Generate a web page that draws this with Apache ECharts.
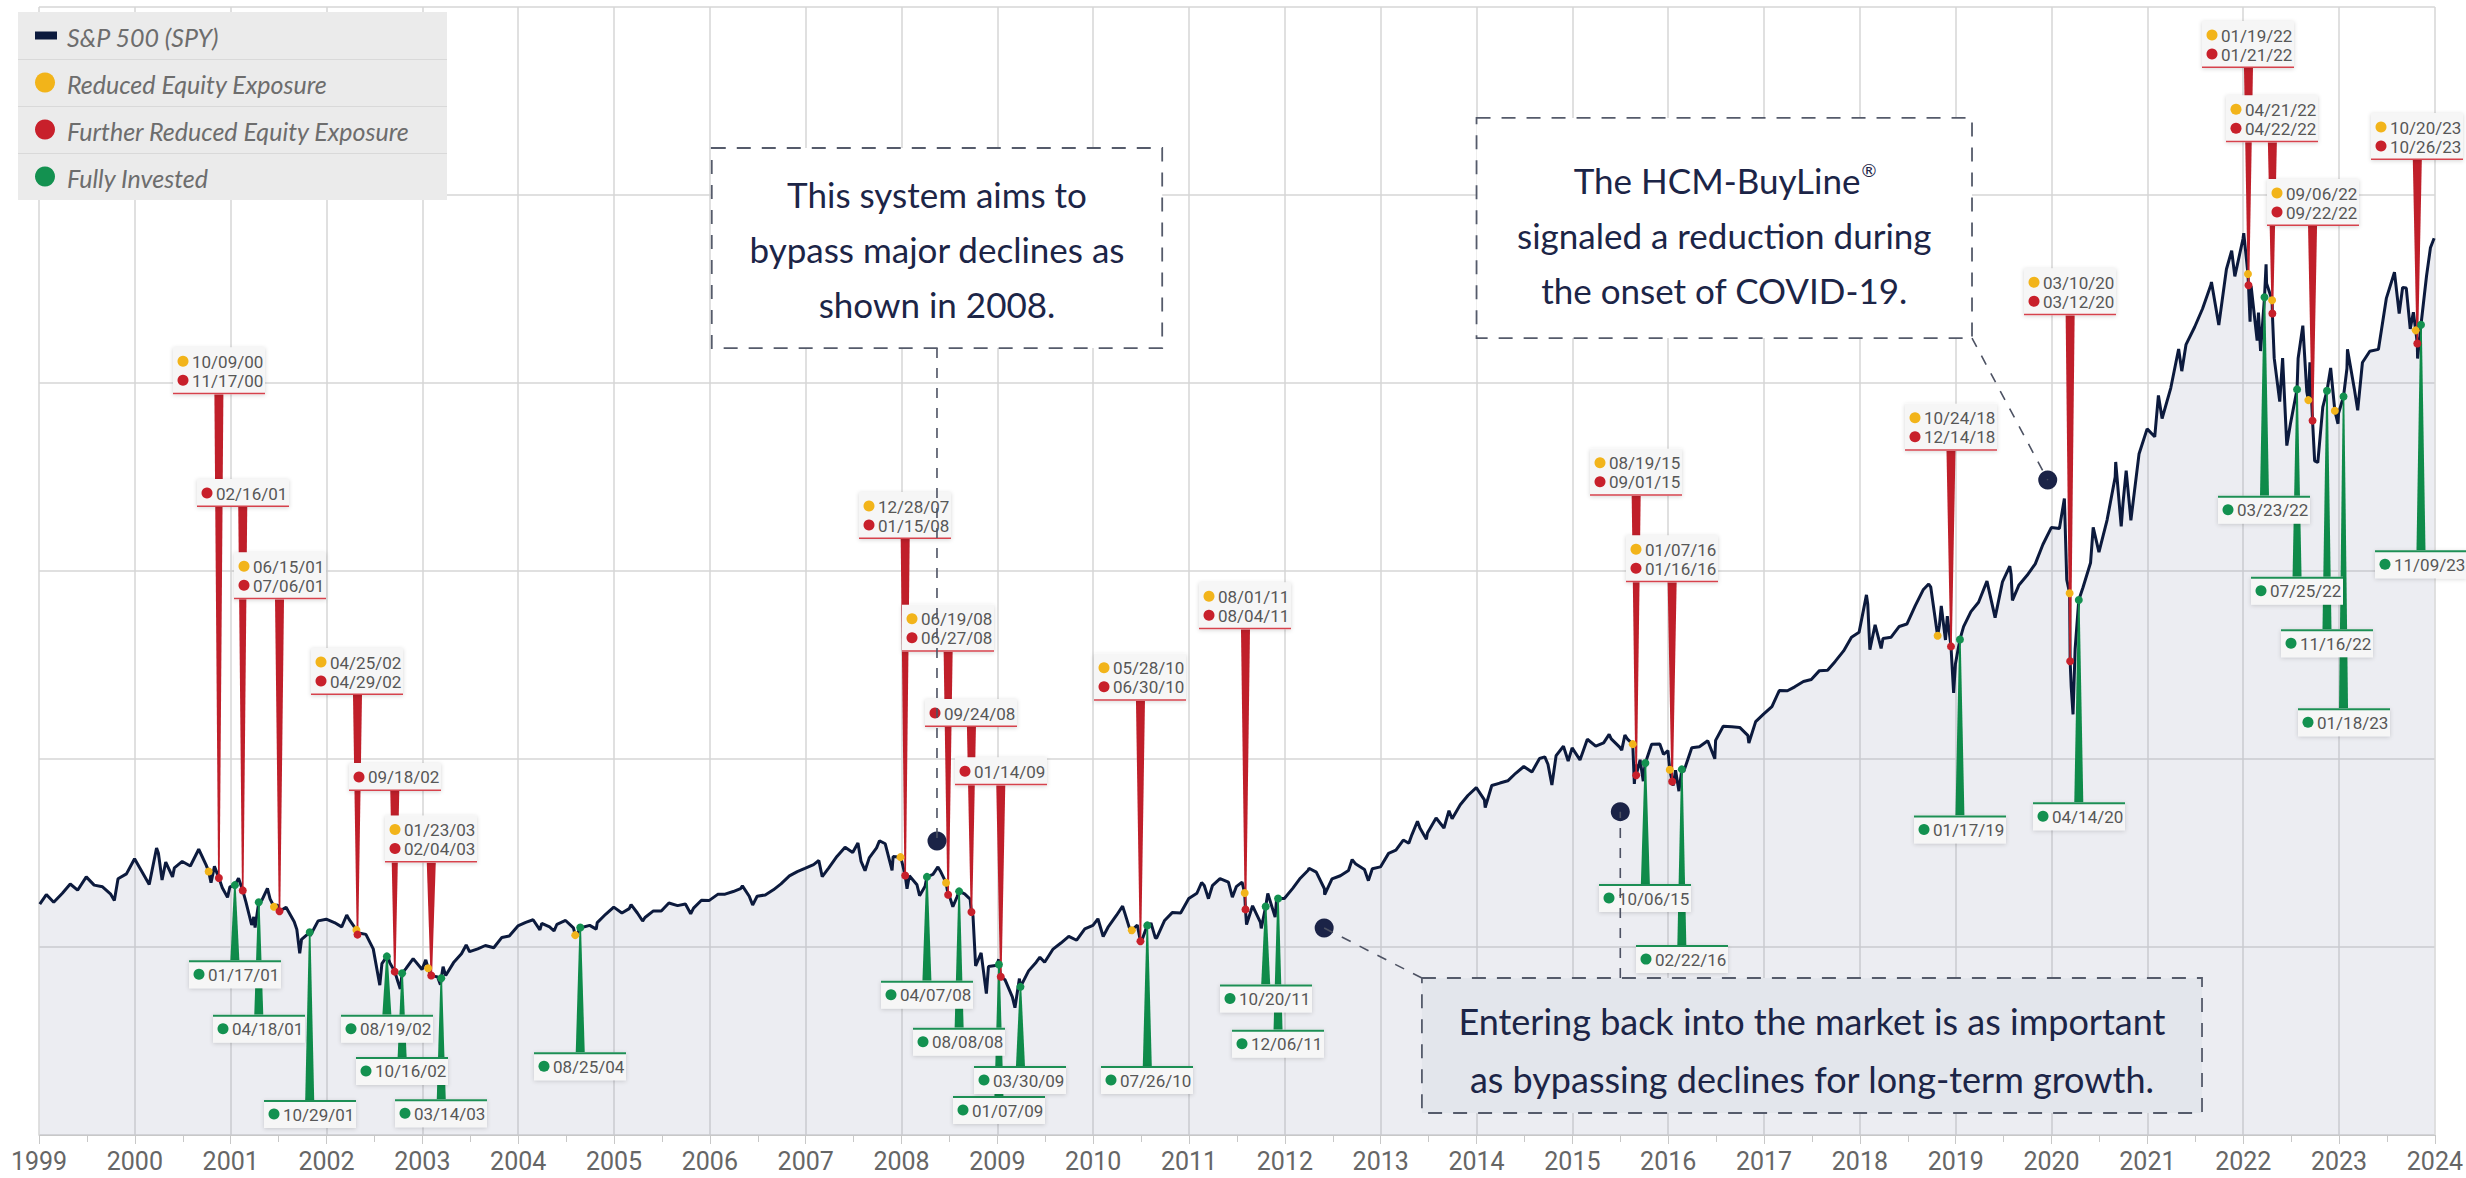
<!DOCTYPE html>
<html><head><meta charset="utf-8">
<script src="https://cdn.jsdelivr.net/npm/echarts/dist/echarts.min.js"></script>
<style>html,body{margin:0;padding:0;background:#fff;overflow:hidden}#chart{width:2466px;height:1178px}</style>
</head><body><div id="chart"></div>
<script>
// ---------------- DATA ----------------
const yearTicks = [1999,2000,2001,2002,2003,2004,2005,2006,2007,2008,2009,2010,2011,2012,2013,2014,2015,2016,2017,2018,2019,2020,2021,2022,2023,2024];

const spy1999_2001 = [
['1999-01-04',122.8],['1999-01-29',127.9],['1999-02-26',123.8],['1999-03-31',128.6],['1999-04-30',133.5],['1999-05-28',130.2],['1999-06-30',137.3],['1999-07-30',132.9],['1999-08-31',132.0],['1999-09-30',128.3],['1999-10-15',124.7],['1999-10-29',136.3],['1999-11-30',138.9],['1999-12-31',146.9],
['2000-01-31',139.4],['2000-02-25',133.3],['2000-03-24',152.7],['2000-03-31',149.9],['2000-04-14',135.6],['2000-04-28',145.2],['2000-05-24',137.3],['2000-05-31',142.1],['2000-06-30',145.5],['2000-07-31',143.1],['2000-09-01',152.0],['2000-09-29',143.7],['2000-10-18',134.2],['2000-10-31',142.9],['2000-11-30',131.5],['2000-12-20',126.4],['2000-12-29',132.0],
['2001-01-31',136.6],['2001-02-28',124.0],['2001-03-22',111.7],['2001-03-30',116.0],['2001-04-04',110.3],['2001-04-30',124.9],['2001-05-21',131.2],['2001-05-31',125.6],['2001-06-29',122.4],['2001-07-31',121.1],['2001-08-31',113.4],['2001-09-10',109.3],['2001-09-21',96.6],['2001-09-28',104.1],['2001-10-31',106.0],['2001-11-30',113.9],['2001-12-31',114.8]
];
const spy2002_2004 = [
['2002-01-31',113.0],['2002-02-28',110.7],['2002-03-19',117.0],['2002-03-28',114.7],['2002-04-30',107.6],['2002-05-31',106.7],['2002-06-28',99.0],['2002-07-23',79.7],['2002-07-31',91.2],['2002-08-22',95.8],['2002-08-30',91.6],['2002-09-30',81.5],['2002-10-09',77.7],['2002-10-31',88.6],['2002-11-27',93.8],['2002-12-31',88.0],
['2003-01-14',93.2],['2003-01-31',85.6],['2003-02-28',84.1],['2003-03-11',80.0],['2003-03-21',89.5],['2003-03-31',84.8],['2003-04-30',91.7],['2003-05-30',96.4],['2003-06-17',101.1],['2003-06-30',97.5],['2003-07-31',99.0],['2003-08-29',100.8],['2003-09-30',99.6],['2003-10-31',105.1],['2003-11-28',105.8],['2003-12-31',111.2],
['2004-01-30',113.1],['2004-02-27',114.5],['2004-03-24',109.1],['2004-03-31',112.6],['2004-04-30',110.7],['2004-05-17',108.5],['2004-05-28',112.1],['2004-06-30',114.1],['2004-07-30',110.2],['2004-08-12',106.4],['2004-08-31',110.4],['2004-09-30',111.5],['2004-10-25',109.5],['2004-10-29',113.0],['2004-11-30',117.4],['2004-12-31',121.2]
];
const spy2005_2007 = [
['2005-01-31',118.1],['2005-02-28',120.4],['2005-03-07',122.5],['2005-03-31',118.1],['2005-04-20',113.8],['2005-04-29',115.7],['2005-05-31',119.2],['2005-06-30',119.1],['2005-07-29',123.4],['2005-08-31',122.0],['2005-09-30',122.9],['2005-10-20',117.7],['2005-10-31',120.7],['2005-11-30',124.9],['2005-12-30',124.8],
['2006-01-31',128.0],['2006-02-28',128.1],['2006-03-31',129.5],['2006-04-28',131.1],['2006-05-05',132.5],['2006-05-31',127.0],['2006-06-13',122.3],['2006-06-30',127.0],['2006-07-31',127.7],['2006-08-31',130.4],['2006-09-29',133.6],['2006-10-31',137.8],['2006-11-30',140.1],['2006-12-29',141.8],
['2007-01-31',143.8],['2007-02-20',146.0],['2007-03-05',137.4],['2007-03-30',142.1],['2007-04-30',148.2],['2007-05-31',153.1],['2007-06-29',150.3],['2007-07-19',155.3],['2007-07-31',145.5],['2007-08-15',140.6],['2007-08-31',147.4],['2007-09-28',152.7],['2007-10-09',156.5],['2007-10-31',154.9],['2007-11-26',140.7],['2007-11-30',148.1],['2007-12-31',146.8]
];
const spy2008_2010 = [
['2008-01-22',131.0],['2008-01-31',137.9],['2008-02-29',133.1],['2008-03-10',127.3],['2008-03-31',132.3],['2008-04-30',138.6],['2008-05-19',142.6],['2008-05-30',140.0],['2008-06-30',128.0],['2008-07-15',121.4],['2008-07-31',126.7],['2008-08-29',128.3],['2008-09-19',125.5],['2008-09-30',116.5],['2008-10-10',89.9],['2008-10-31',96.9],['2008-11-20',75.2],['2008-11-28',89.6],['2008-12-31',90.3],
['2009-01-06',93.5],['2009-01-30',82.6],['2009-02-27',73.5],['2009-03-09',67.7],['2009-03-26',83.2],['2009-04-30',87.3],['2009-05-29',91.9],['2009-06-12',94.6],['2009-06-30',91.9],['2009-07-31',98.7],['2009-08-31',102.1],['2009-09-30',105.7],['2009-10-30',103.6],['2009-11-30',109.6],['2009-12-31',111.5],
['2010-01-19',115.0],['2010-02-08',105.6],['2010-02-26',110.4],['2010-03-31',116.9],['2010-04-23',121.7],['2010-04-30',118.7],['2010-05-25',107.4],['2010-06-18',111.7],['2010-07-02',102.3],['2010-07-30',110.2],['2010-08-09',112.8],['2010-08-26',104.7],['2010-08-31',104.9],['2010-09-30',114.1],['2010-10-29',118.3],['2010-11-30',118.1],['2010-12-31',125.8]
];
const spy2011_2014 = [
['2011-01-31',128.6],['2011-02-18',134.3],['2011-02-28',132.7],['2011-03-16',125.7],['2011-03-31',132.6],['2011-04-29',136.4],['2011-05-31',134.5],['2011-06-15',126.5],['2011-06-30',132.1],['2011-07-22',134.5],['2011-08-08',111.9],['2011-08-31',121.9],['2011-09-30',113.1],['2011-10-03',109.9],['2011-10-28',128.5],['2011-11-25',115.9],['2011-11-30',124.7],['2011-12-30',125.8],
['2012-01-31',131.2],['2012-02-29',136.6],['2012-03-30',140.8],['2012-04-02',141.9],['2012-04-30',139.8],['2012-05-31',131.0],['2012-06-01',127.8],['2012-06-29',136.2],['2012-07-31',137.9],['2012-08-31',140.7],['2012-09-14',146.5],['2012-09-28',144.1],['2012-10-31',141.2],['2012-11-15',135.3],['2012-11-30',141.6],['2012-12-31',142.6],
['2013-01-31',149.8],['2013-02-28',151.5],['2013-03-28',156.9],['2013-04-18',155.2],['2013-04-30',159.8],['2013-05-21',166.9],['2013-05-31',163.1],['2013-06-24',157.3],['2013-06-28',160.6],['2013-07-31',168.6],['2013-08-30',163.3],['2013-09-18',172.5],['2013-09-30',168.2],['2013-10-31',175.7],['2013-11-29',180.6],['2013-12-31',184.8],
['2014-01-31',178.3],['2014-02-03',174.1],['2014-02-28',185.9],['2014-03-31',187.2],['2014-04-30',188.4],['2014-05-30',192.4],['2014-06-30',196.0],['2014-07-31',193.1],['2014-08-29',200.3],['2014-09-18',201.1],['2014-09-30',197.2],['2014-10-15',186.2],['2014-10-31',201.8],['2014-11-28',206.8],['2014-12-16',198.9],['2014-12-31',205.9]
];
const spy2015_2018 = [
['2015-01-30',199.5],['2015-02-27',210.5],['2015-03-31',206.8],['2015-04-30',208.6],['2015-05-21',213.1],['2015-05-29',210.7],['2015-06-30',206.3],['2015-07-08',204.7],['2015-07-20',212.8],['2015-07-31',210.4],['2015-08-25',186.7],['2015-08-31',197.2],['2015-09-16',199.6],['2015-09-28',188.2],['2015-09-30',192.0],['2015-10-30',207.9],['2015-11-30',208.0],['2015-12-14',202.5],['2015-12-31',204.4],
['2016-01-20',185.9],['2016-01-29',194.0],['2016-02-11',182.9],['2016-02-29',193.2],['2016-03-31',206.0],['2016-04-29',206.5],['2016-05-31',209.7],['2016-06-27',200.1],['2016-06-30',209.9],['2016-07-29',217.4],['2016-08-31',217.1],['2016-09-30',216.8],['2016-10-31',212.6],['2016-11-04',208.5],['2016-11-30',219.9],['2016-12-30',223.9],
['2017-01-31',227.9],['2017-02-28',236.4],['2017-03-31',236.3],['2017-04-28',238.4],['2017-05-31',241.2],['2017-06-30',242.3],['2017-07-31',247.0],['2017-08-31',247.2],['2017-09-29',251.9],['2017-10-31',257.5],['2017-11-30',264.8],['2017-12-29',267.4],
['2018-01-26',287.3],['2018-01-31',282.4],['2018-02-08',258.1],['2018-02-28',271.4],['2018-03-23',258.8],['2018-03-30',264.1],['2018-04-30',264.8],['2018-05-31',270.5],['2018-06-29',271.8],['2018-07-31',281.6],['2018-08-31',290.2],['2018-09-20',293.1],['2018-09-28',291.4],['2018-10-31',271.2],['2018-11-07',281.4],['2018-11-23',263.3],['2018-11-30',276.0],['2018-12-24',235.1],['2018-12-31',250.7]
];
const spy2019_2021 = [
['2019-01-31',270.4],['2019-02-28',278.4],['2019-03-29',283.4],['2019-04-30',294.6],['2019-05-31',275.2],['2019-06-28',294.2],['2019-07-26',302.6],['2019-07-31',298.0],['2019-08-05',284.4],['2019-08-30',292.6],['2019-09-30',297.7],['2019-10-31',303.8],['2019-11-29',314.1],['2019-12-31',323.1],
['2020-01-31',322.6],['2020-02-19',338.6],['2020-02-28',295.4],['2020-03-16',238.6],['2020-03-23',223.7],['2020-03-31',258.5],['2020-04-30',291.2],['2020-05-29',304.4],['2020-06-08',323.2],['2020-06-30',310.0],['2020-07-31',327.1],['2020-08-31',350.0],['2020-09-02',358.0],['2020-09-23',323.7],['2020-09-30',336.3],['2020-10-12',353.4],['2020-10-30',327.0],['2020-11-30',362.2],['2020-12-31',375.6],
['2021-01-29',371.4],['2021-02-12',393.4],['2021-02-26',381.1],['2021-03-31',397.3],['2021-04-30',418.1],['2021-05-12',406.3],['2021-05-28',420.4],['2021-06-30',429.8],['2021-07-30',439.5],['2021-08-31',452.3],['2021-09-02',453.7],['2021-09-30',430.8],['2021-10-29',460.5],['2021-11-18',470.4],['2021-11-30',456.7],['2021-12-31',476.6]
];
const spy2022_2023 = [
['2022-01-03',479.7],['2022-01-27',432.6],['2022-01-31',451.6],['2022-02-23',422.5],['2022-02-28',437.4],['2022-03-08',417.0],['2022-03-29',463.1],['2022-03-31',453.0],['2022-04-29',413.2],['2022-05-20',390.1],['2022-05-31',413.2],['2022-06-16',366.7],['2022-06-30',378.5],['2022-07-29',413.0],['2022-08-16',430.5],['2022-08-31',395.5],['2022-09-12',411.0],['2022-09-30',358.6],['2022-10-12',357.7],['2022-10-31',387.2],['2022-11-30',408.0],['2022-12-28',378.3],['2022-12-30',383.9],
['2023-01-31',407.7],['2023-02-02',417.9],['2023-02-28',397.0],['2023-03-13',385.5],['2023-03-31',410.9],['2023-04-28',416.9],['2023-05-31',417.9],['2023-06-30',445.0],['2023-07-31',458.9],['2023-08-18',436.9],['2023-08-31',450.8],['2023-09-14',450.5],['2023-09-29',428.8],['2023-10-11',437.6],['2023-10-27',413.0],['2023-11-30',456.8],['2023-12-15',471.9],['2023-12-29',477.0]
];

// Signals: Y = Reduced Equity Exposure, R = Further Reduced, G = Fully Invested
const signalDates = ['10/09/00','11/17/00','01/17/01','02/16/01','04/18/01','06/15/01','07/06/01','10/29/01','04/25/02','04/29/02','08/19/02','09/18/02','10/16/02','01/23/03','02/04/03','03/14/03','08/06/04','08/25/04','12/28/07','01/15/08','04/07/08','06/19/08','06/27/08','08/08/08','09/24/08','01/07/09','01/14/09','03/30/09','05/28/10','06/30/10','07/26/10','08/01/11','08/04/11','10/20/11','12/06/11','08/19/15','09/01/15','10/06/15','01/07/16','01/16/16','02/22/16','10/24/18','12/14/18','01/17/19','03/10/20','03/12/20','04/14/20','01/19/22','01/21/22','03/23/22','04/21/22','04/22/22','07/25/22','09/06/22','09/22/22','11/16/22','12/16/22','01/18/23','10/20/23','10/26/23','11/09/23'];
const signalTypes = ['Y','R','G','R','G','Y','R','G','Y','R','G','R','G','Y','R','G','Y','G','Y','R','G','Y','R','G','R','G','R','G','Y','R','G','Y','R','G','G','Y','R','G','Y','R','G','Y','R','G','Y','R','G','Y','R','G','Y','R','G','Y','R','G','Y','G','Y','R','G'];
const signalValues = [140.2,136.7,132.9,130.1,123.8,121.4,119.0,107.8,109.1,106.6,95.0,86.9,86.0,88.7,84.8,83.4,106.3,110.4,147.8,138.0,137.3,134.2,127.8,129.6,118.6,90.7,84.2,78.8,108.9,103.1,111.5,128.7,120.0,121.5,125.8,207.9,191.4,197.9,194.3,188.0,194.5,265.6,259.9,263.6,288.2,252.0,284.6,458.0,452.0,445.6,444.0,437.0,396.6,390.9,380.0,395.9,385.2,392.8,428.0,421.0,431.0];

// Labelled groups of signals (date labels shown in boxes)
const labelGroups = [
 ['10/09/00','11/17/00'],['02/16/01'],['06/15/01','07/06/01'],['04/25/02','04/29/02'],['09/18/02'],['01/23/03','02/04/03'],
 ['12/28/07','01/15/08'],['06/19/08','06/27/08'],['09/24/08'],['01/14/09'],['05/28/10','06/30/10'],['08/01/11','08/04/11'],
 ['08/19/15','09/01/15'],['01/07/16','01/16/16'],['10/24/18','12/14/18'],['03/10/20','03/12/20'],
 ['01/19/22','01/21/22'],['04/21/22','04/22/22'],['09/06/22','09/22/22'],['10/20/23','10/26/23'],
 ['01/17/01'],['04/18/01'],['10/29/01'],['08/19/02'],['10/16/02'],['03/14/03'],['08/25/04'],
 ['04/07/08'],['08/08/08'],['01/07/09'],['03/30/09'],['07/26/10'],['10/20/11'],['12/06/11'],
 ['10/06/15'],['02/22/16'],['01/17/19'],['04/14/20'],['03/23/22'],['07/25/22'],['11/16/22'],['01/18/23'],['11/09/23']
];
// layout: value-axis level where each label box sits (bottom edge for red boxes, top edge for green boxes)
const labelLevels = [394,334,285,234,183,145, 317,257,217,186,231,269, 340,294,364,436, 567.5,528,483.5,518.6,
 93,64,18.6,64,41.5,19,44, 82,57,20.7,36.7,36.7,80,56, 133.5,101,170,177,340,297,269,227,311];

const legendNames = ['S&P 500 (SPY)','Reduced Equity Exposure','Further Reduced Equity Exposure','Fully Invested'];
const calloutTexts = [
 ['This system aims to','bypass major declines as','shown in 2008.'],
 ['The HCM-BuyLine®','signaled a reduction during','the onset of COVID-19.'],
 ['Entering back into the market is as important','as bypassing declines for long-term growth.']
];
// layout (axis units): callout boxes [x0,yTop,x1,yBottom], pointer dots, leader lines
const calloutBoxes = [[2006.02,525.0,2010.72,418.6],[2014.00,541.0,2019.17,423.9],[2013.43,83.5,2021.57,11.7]];
const calloutFills = ['#ffffff','#ffffff','#e3e6ec'];
const calloutFont = [35,35,36];
const calloutLineH = [55,55,58];
const calloutShift = [1,7,4];
const pointerDots = [[2008.37,156.4],[2019.96,348.4],[2012.41,110.1],[2015.50,172.0]];
const leaderLines = [[[2008.37,418.6],[2008.37,156.4]],[[2019.17,423.9],[2019.96,348.4]],[[2013.43,83.5],[2012.41,110.1]],[[2015.50,83.5],[2015.50,172.0]]];

// ---------------- HELPERS ----------------
function dateToYear(s){
  const [y,m,d] = s.split('-').map(Number);
  const t0 = Date.UTC(y,0,1), t1 = Date.UTC(y+1,0,1);
  return y + (Date.UTC(y,m-1,d) - t0) / (t1 - t0);
}
function sigToYear(s){
  const [m,d,yy] = s.split('/').map(Number);
  return dateToYear((2000+yy) + '-' + m + '-' + d);
}
const COLORS = {Y:'#f2b41a', R:'#c8202b', G:'#139150'};
const WEDGE = {R:'#c01f2a', G:'#0f8b4a'};
const NAVY = '#0c1a3d';
const BOX_W = 92, ROW_H = 19, BOX_PAD = 9, WEDGE_W = 9;

const spyPoints = [].concat(spy1999_2001, spy2002_2004, spy2005_2007, spy2008_2010, spy2011_2014, spy2015_2018, spy2019_2021, spy2022_2023)
  .map(p => [dateToYear(p[0]), p[1]]);
const sigPoints = signalDates.map((d,i) => [sigToYear(d), signalValues[i]]);
const lineData = spyPoints.concat(sigPoints).sort((a,b) => a[0]-b[0]);

const groupData = labelGroups.map((g,gi) => {
  const anchor = g[g.length-1];
  const idx = signalDates.indexOf(anchor);
  return [sigToYear(anchor), signalValues[idx], labelLevels[gi], gi];
});
function groupColor(gi){
  const g = labelGroups[gi];
  return signalTypes[signalDates.indexOf(g[g.length-1])] === 'G' ? 'G' : 'R';
}

function renderWedge(params, api){
  const gi = api.value(3);
  const a = api.coord([api.value(0), api.value(1)]);
  const b = api.coord([api.value(0), api.value(2)]);
  const c = groupColor(gi);
  return {type:'polygon', shape:{points:[[a[0]-0.8,a[1]],[a[0]+0.8,a[1]],[b[0]+WEDGE_W/2,b[1]],[b[0]-WEDGE_W/2,b[1]]]}, style:{fill:WEDGE[c]}};
}
function renderBox(params, api){
  const gi = api.value(3);
  const g = labelGroups[gi];
  const green = groupColor(gi) === 'G';
  const p = api.coord([api.value(0), api.value(2)]);
  const h = g.length*ROW_H + BOX_PAD;
  const left = Math.round(p[0] - BOX_W/2);
  const top = green ? p[1] : p[1] - h;
  const ch = [{type:'rect', shape:{x:left,y:top,width:BOX_W,height:h}, style:{fill:'#f6f6f6', shadowBlur:4, shadowColor:'rgba(0,0,0,0.16)', shadowOffsetY:1}}];
  ch.push({type:'rect', shape:{x:left, y: green ? top : top+h-1.5, width:BOX_W, height: green ? 2 : 1.5}, style:{fill: green ? '#1d8f55' : '#d6424c'}});
  g.forEach((d,i) => {
    const cy = top + BOX_PAD/2 + ROW_H*(i+0.5);
    const t = signalTypes[signalDates.indexOf(d)];
    ch.push({type:'circle', shape:{cx:left+10, cy:cy, r:5.5}, style:{fill:COLORS[t]}});
    ch.push({type:'text', style:{text:d, x:left+19, y:cy+0.5, fill:'#575757', fontSize:17, fontFamily:'Roboto, sans-serif', align:'left', verticalAlign:'middle'}});
  });
  return {type:'group', children:ch};
}

// ---------------- CHART ----------------
const chart = echarts.init(document.getElementById('chart'), null, {renderer:'svg', width:2466, height:1178});
const dotSeries = ['Y','R','G'].map((t,k) => ({
  name: legendNames[k+1], type:'scatter', z:4, silent:true, symbolSize:8,
  itemStyle:{color:COLORS[t], opacity:1},
  data: sigPoints.filter((p,i) => signalTypes[i] === t)
}));
const option = {
  animation:false,
  backgroundColor:'#ffffff',
  grid:{left:39, right:31, top:7, bottom:43, containLabel:false},
  xAxis:{type:'value', min:1999, max:2024, interval:1,
    axisLine:{show:true, lineStyle:{color:'#c8c8c8', width:1}},
    axisTick:{show:true, length:9, lineStyle:{color:'#c8c8c8'}},
    minorTick:{show:true, splitNumber:2, length:7, lineStyle:{color:'#c8c8c8'}},
    axisLabel:{show:true, margin:14, color:'#666666', fontSize:25, fontFamily:"'Liberation Sans Narrow', 'Roboto', sans-serif", formatter: v => String(Math.round(v)), showMinLabel:true, showMaxLabel:true},
    splitLine:{show:true, lineStyle:{color:'#d6d6d6', width:1.5}}},
  yAxis:{type:'value', min:0, max:600, interval:100,
    axisLine:{show:false}, axisTick:{show:false}, axisLabel:{show:false},
    splitLine:{show:true, lineStyle:{color:'#d6d6d6', width:1.5}}},
  series:[
    {name:legendNames[0], type:'line', z:2, silent:true, showSymbol:false, symbol:'none', data:lineData,
     lineStyle:{color:NAVY, width:3}, areaStyle:{color:'rgba(140,150,178,0.24)'}},
    {type:'custom', z:3, silent:true, clip:false, renderItem:renderWedge, data:groupData, encode:{x:0,y:1}},
    ...dotSeries,
    {type:'scatter', z:5, silent:true, symbolSize:19, itemStyle:{color:'#1b2347', opacity:1}, data:pointerDots},
    {type:'custom', z:6, silent:true, clip:false, renderItem:renderBox, data:groupData, encode:{x:0,y:2}}
  ]
};
chart.setOption(option);

// ---------- annotations positioned through the axes ----------
const P = (x,y) => chart.convertToPixel({xAxisIndex:0, yAxisIndex:0}, [x,y]);
const measureCtx = document.createElement('canvas').getContext('2d');
function textW(t, size){ measureCtx.font = size + 'px Lato'; return measureCtx.measureText(t).width; }
const els = [];
// legend panel
const LX = 18, LY = 12, LW = 429, RH = 47;
els.push({type:'rect', z:100, shape:{x:LX,y:LY,width:LW,height:RH*4}, style:{fill:'#ebebeb'}});
for (let i=1;i<4;i++) els.push({type:'rect', z:101, shape:{x:LX,y:LY+RH*i,width:LW,height:1}, style:{fill:'#d9d9d9'}});
legendNames.forEach((n,i) => {
  const cy = LY + RH*i + RH/2;
  if (i === 0) els.push({type:'rect', z:102, shape:{x:35,y:cy-4,width:22,height:8}, style:{fill:NAVY}});
  else els.push({type:'circle', z:102, shape:{cx:45,cy:cy,r:10}, style:{fill:COLORS[['Y','R','G'][i-1]]}});
  els.push({type:'text', z:102, x:67, y:cy+1, style:{text:n, fill:'#6d6d6d', fontSize:25, fontStyle:'italic', fontFamily:'Lato, sans-serif', align:'left', verticalAlign:'middle'}});
});
// leader lines
leaderLines.forEach(l => {
  const a = P(l[0][0], l[0][1]), b = P(l[1][0], l[1][1]);
  els.push({type:'line', z:90, shape:{x1:a[0],y1:a[1],x2:b[0],y2:b[1]}, style:{stroke:'#4d5263', lineWidth:1.6, lineDash:[10,10]}});
});
// callout boxes
calloutBoxes.forEach((c,i) => {
  const p0 = P(c[0], c[1]), p1 = P(c[2], c[3]);
  els.push({type:'rect', z:95, shape:{x:p0[0],y:p0[1],width:p1[0]-p0[0],height:p1[1]-p0[1]}, style:{fill:calloutFills[i], stroke:'#555b6b', lineWidth:1.8, lineDash:[14,11]}});
  const cx = (p0[0]+p1[0])/2, cy = (p0[1]+p1[1])/2 + calloutShift[i];
  const n = calloutTexts[i].length, fs = calloutFont[i], lh = calloutLineH[i];
  calloutTexts[i].forEach((t,k) => {
    const y = cy + (k - (n-1)/2)*lh;
    const reg = t.indexOf('®') >= 0;
    const main = t.replace('®','');
    if (!reg) {
      els.push({type:'text', z:96, x:cx, y:y, style:{text:main, fill:'#1c2547', fontSize:fs, fontFamily:'Lato, sans-serif', align:'center', verticalAlign:'middle'}});
    } else {
      const sup = Math.round(fs*0.5);
      const w = textW(main, fs), ws = sup*0.8;
      const x0 = cx - (w + ws)/2;
      els.push({type:'text', z:96, x:x0, y:y, style:{text:main, fill:'#1c2547', fontSize:fs, fontFamily:'Lato, sans-serif', align:'left', verticalAlign:'middle'}});
      els.push({type:'text', z:96, x:x0 + w + 1, y:y - fs*0.28, style:{text:'®', fill:'#1c2547', fontSize:sup, fontFamily:'Lato, sans-serif', align:'left', verticalAlign:'middle'}});
    }
  });
});
chart.setOption({graphic:{elements:els}});
</script></body></html>
